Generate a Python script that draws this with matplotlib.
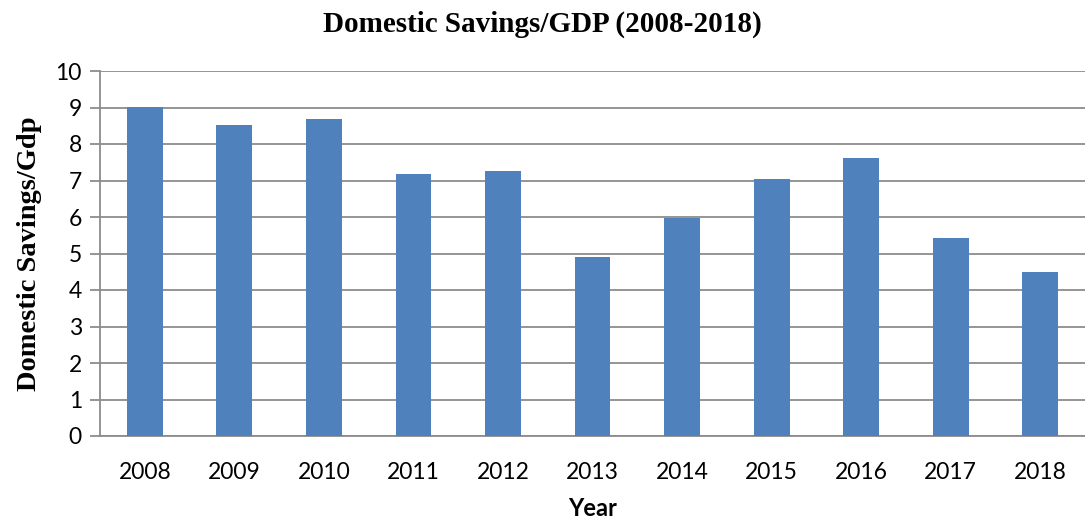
import matplotlib.pyplot as plt
import numpy as np

years = ['2008', '2009', '2010', '2011', '2012', '2013', '2014', '2015', '2016', '2017', '2018']
savings = [9.01, 8.52, 8.68, 7.18, 7.26, 4.91, 5.96, 7.05, 7.63, 5.42, 4.49]

fig = plt.figure(figsize=(10.85, 5.23), dpi=100)
ax = fig.add_axes([100 / 1085, 1 - 436 / 523, 1 - 100 / 1085, (436 - 71) / 523])

x = np.arange(len(years))
ax.bar(x, savings, width=0.4, color='#4F81BD', zorder=3)

ax.set_xlim(-0.5, len(years) - 0.5)
ax.set_ylim(0, 10)
ax.set_yticks(range(0, 11))
ax.set_xticks(x)
ax.set_xticklabels(years)

ax.grid(axis='y', color='#8c8c8c', linewidth=1.3, zorder=0)
for side in ['top', 'right']:
    ax.spines[side].set_visible(False)
ax.spines['left'].set_color('#8c8c8c')
ax.spines['bottom'].set_color('#8c8c8c')
ax.spines['left'].set_linewidth(1.3)
ax.spines['bottom'].set_linewidth(1.3)

ax.tick_params(axis='y', length=7, width=1.3, color='#8c8c8c', labelsize=16.5, pad=6)
ax.tick_params(axis='x', length=0, labelsize=16.5, pad=19)
for lab in ax.get_xticklabels() + ax.get_yticklabels():
    lab.set_family('Lato')

ax.set_xlabel('Year', fontsize=17, fontweight='bold', family='Lato', labelpad=10)
ax.set_ylabel('Domestic Savings/Gdp', fontsize=20.5, fontweight='bold',
              family='Liberation Serif', labelpad=10)
fig.text(0.5, 1 - 24 / 523, 'Domestic Savings/GDP (2008-2018)', ha='center', va='center',
         fontsize=21, fontweight='bold', family='Liberation Serif')

plt.savefig('out.png', dpi=100)
